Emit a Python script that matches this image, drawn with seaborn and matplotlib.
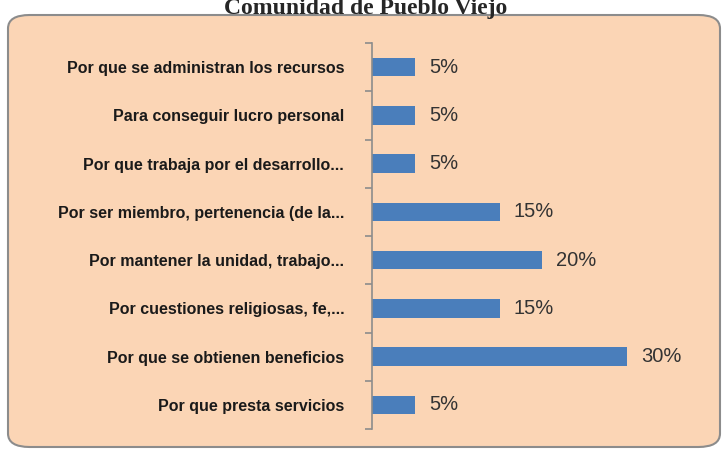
import numpy as np
import pandas as pd
import matplotlib.pyplot as plt
import seaborn as sns
from matplotlib.patches import FancyBboxPatch

# data, top to bottom as in the chart
razones = ["Por que se administran los recursos",
           "Para conseguir lucro personal",
           "Por que trabaja por el desarrollo...",
           "Por ser miembro, pertenencia (de la...",
           "Por mantener la unidad, trabajo...",
           "Por cuestiones religiosas, fe,...",
           "Por que se obtienen beneficios",
           "Por que presta servicios"]
porcentajes = [5, 5, 5, 15, 20, 15, 30, 5]

df = pd.DataFrame({"razon": razones, "pct": porcentajes})

sns.set_style("white")
plt.rcParams["font.family"] = ["Liberation Sans Narrow", "Liberation Sans", "DejaVu Sans"]

fig = plt.figure(figsize=(7.25, 4.5), dpi=100)
fig.patch.set_facecolor("white")

# peach rounded panel
box = FancyBboxPatch((8 / 725, 3 / 450), 712 / 725, 432 / 450,
                     boxstyle="round,pad=0,rounding_size=0.03",
                     transform=fig.transFigure, facecolor="#FBD5B5",
                     edgecolor="#8C8C8C", linewidth=1.5, zorder=-10)
fig.patches.append(box)

fig.text(0.505, (450 - 14) / 450, "Comunidad de Pueblo Viejo", ha="center",
         va="baseline", fontsize=17, fontweight="bold",
         family=["Liberation Serif", "DejaVu Serif"])

ax = fig.add_axes([372 / 725, 21 / 450, 340 / 725, 386 / 450])
ax.set_facecolor("none")
sns.barplot(data=df, x="pct", y="razon", orient="h", color="#4A7EBB",
            width=0.38, saturation=1, linewidth=0, ax=ax)

ax.set_xlim(0, 40)
ax.set_ylim(len(razones) - 0.5, -0.5)
ax.set_xlabel("")
ax.set_ylabel("")
ax.set_xticks([])

for s in ["top", "right", "bottom"]:
    ax.spines[s].set_visible(False)
ax.spines["left"].set_color("#8C8C8C")
ax.spines["left"].set_linewidth(1.2)

ax.set_yticks(range(len(razones)))
ax.set_yticklabels(razones, fontsize=11.5, fontweight="bold", color="#1a1a1a")
ax.tick_params(axis="y", which="major", length=0, pad=20)
ax.set_yticks(np.arange(-0.5, len(razones)), minor=True)
ax.tick_params(axis="y", which="minor", left=True, length=5,
               color="#8C8C8C", width=1.2)

for i, v in enumerate(porcentajes):
    ax.text(v + 1.7, i, f"{v}%", va="center", ha="left", fontsize=14.5,
            color="#333333", family=["Liberation Sans", "DejaVu Sans"])

fig.savefig("out.png", dpi=100)
